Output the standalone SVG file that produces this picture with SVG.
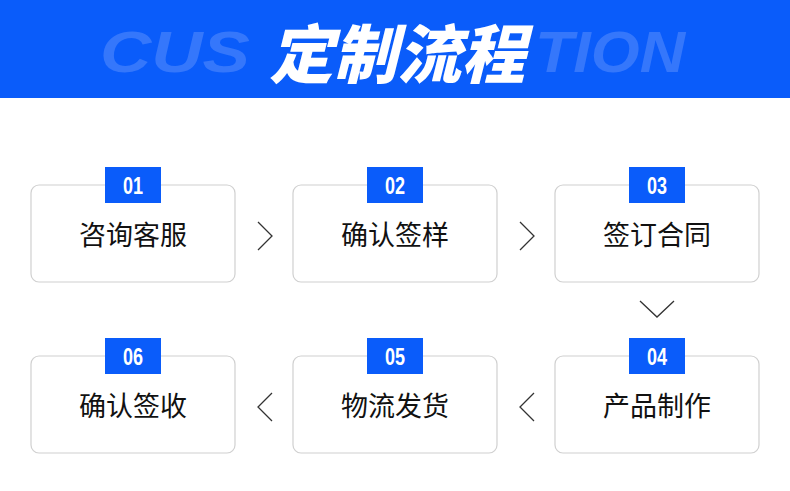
<svg xmlns="http://www.w3.org/2000/svg" width="790" height="491" viewBox="0 0 790 491">
<style>
.box{fill:#fff;stroke:#d0d0d0;stroke-width:1.2}
.badge{fill:#0a5cfa}
.num{font-family:"Liberation Sans",sans-serif;font-weight:bold;font-size:24px;fill:#fff;text-anchor:middle}
.lbl{font-family:"Noto Sans CJK SC",sans-serif;font-size:27px;fill:#111;text-anchor:middle}
.chev{fill:none;stroke:#333;stroke-width:1.3}
.bg{font-family:"Liberation Sans",sans-serif;font-weight:900;font-style:italic;font-size:58px;fill:#3577fb}
</style>
<rect width="790" height="491" fill="#fff"/>
<g id="header">
<rect width="790" height="98" fill="#0a5cfa"/>
<text class="bg" x="100" y="72" textLength="150" lengthAdjust="spacingAndGlyphs">CUS</text>
<text class="bg" x="535" y="72" textLength="150" lengthAdjust="spacingAndGlyphs">TION</text>
<text x="397" y="78" font-family="Noto Sans CJK SC,sans-serif" font-weight="900" font-size="64" font-style="italic" fill="#fff" text-anchor="middle">定制流程</text>
</g>
<g id="n1"><rect class="box" x="31" y="185" width="204" height="97" rx="8"/><rect class="badge" x="105" y="167" width="56" height="36"/><text class="num" transform="translate(133 194) scale(0.75 1)">01</text><text class="lbl" x="133" y="245">咨询客服</text></g>
<g id="n2"><rect class="box" x="293" y="185" width="204" height="97" rx="8"/><rect class="badge" x="367" y="167" width="56" height="36"/><text class="num" transform="translate(395 194) scale(0.75 1)">02</text><text class="lbl" x="395" y="245">确认签样</text></g>
<g id="n3"><rect class="box" x="555" y="185" width="204" height="97" rx="8"/><rect class="badge" x="629" y="167" width="56" height="36"/><text class="num" transform="translate(657 194) scale(0.75 1)">03</text><text class="lbl" x="657" y="245">签订合同</text></g>
<g id="n4"><rect class="box" x="555" y="356" width="204" height="97" rx="8"/><rect class="badge" x="629" y="338" width="56" height="36"/><text class="num" transform="translate(657 365) scale(0.75 1)">04</text><text class="lbl" x="657" y="416">产品制作</text></g>
<g id="n5"><rect class="box" x="293" y="356" width="204" height="97" rx="8"/><rect class="badge" x="367" y="338" width="56" height="36"/><text class="num" transform="translate(395 365) scale(0.75 1)">05</text><text class="lbl" x="395" y="416">物流发货</text></g>
<g id="n6"><rect class="box" x="31" y="356" width="204" height="97" rx="8"/><rect class="badge" x="105" y="338" width="56" height="36"/><text class="num" transform="translate(133 365) scale(0.75 1)">06</text><text class="lbl" x="133" y="416">确认签收</text></g>
<g id="connectors">
<path class="chev" d="M258 222 L272 236 L258 250"/>
<path class="chev" d="M520 222 L534 236 L520 250"/>
<path class="chev" d="M640 301 L657 317 L674 301"/>
<path class="chev" d="M534 393 L520 407 L534 421"/>
<path class="chev" d="M272 393 L258 407 L272 421"/>
</g>
</svg>
